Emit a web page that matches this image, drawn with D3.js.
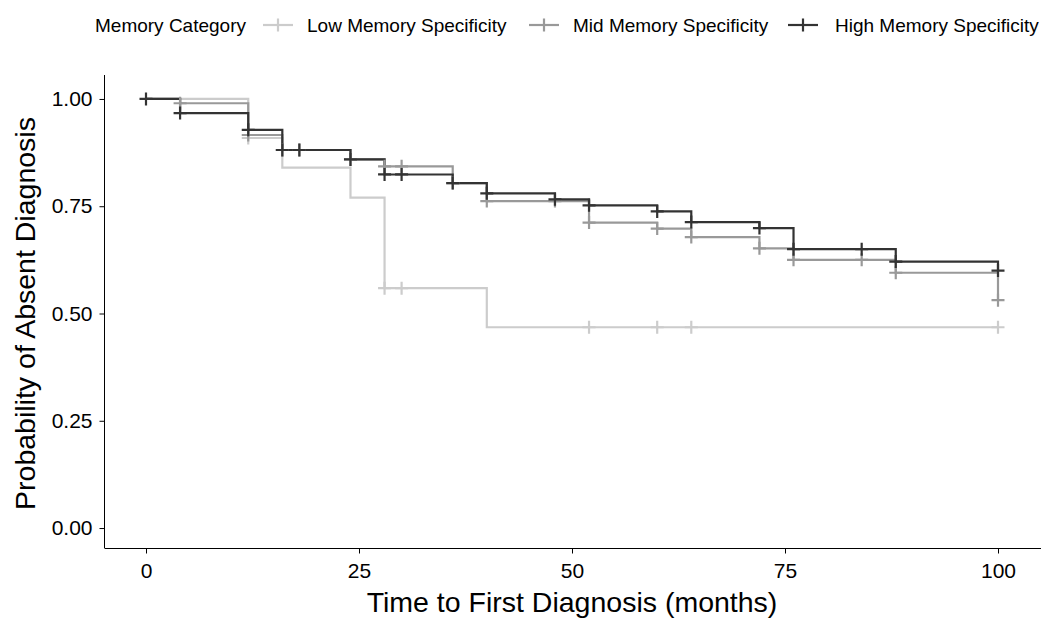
<!DOCTYPE html>
<html lang="en">
<head>
<meta charset="utf-8">
<title>Memory Specificity Survival</title>
<script src="https://d3js.org/d3.v7.min.js"></script>
<style>
  body { margin: 0; background: #fff; font-family: "Liberation Sans", Arial, sans-serif; }
  text { fill: #000; }
</style>
</head>
<body>
<div id="vis"></div>
<script>
// step curves (time in months, survival probability)
const lowTimes = [0, 12, 16, 24, 28, 40, 100];
const lowSurv = [1.0, 0.909, 0.840, 0.770, 0.559, 0.468, 0.468];
const lowCensor = [12, 28, 30, 52, 60, 64, 100];

const midTimes = [0, 4, 12, 16, 24, 28, 36, 40, 52, 60, 64, 72, 76, 88, 100];
const midSurv = [1.0, 0.990, 0.916, 0.881, 0.859, 0.843, 0.804, 0.762, 0.712, 0.698, 0.678, 0.652, 0.625, 0.595, 0.531];
const midCensor = [4, 12, 16, 18, 24, 28, 30, 36, 40, 48, 52, 60, 64, 72, 76, 84, 88, 100];

const highTimes = [0, 4, 12, 16, 24, 28, 36, 40, 48, 52, 60, 64, 72, 76, 88, 100];
const highSurv = [1.0, 0.967, 0.928, 0.881, 0.859, 0.824, 0.804, 0.780, 0.766, 0.752, 0.738, 0.713, 0.699, 0.650, 0.621, 0.600];
const highCensor = [0, 4, 12, 16, 18, 24, 28, 30, 36, 40, 48, 52, 60, 64, 72, 76, 84, 88, 100];

const groupNames = ["Low Memory Specificity", "Mid Memory Specificity", "High Memory Specificity"];
const groupColours = ["#cccccc", "#999999", "#333333"];
const xTicks = [0, 25, 50, 75, 100];
const yTicks = [0, 0.25, 0.5, 0.75, 1];

const width = 1051, height = 619;
const groups = [
  { name: groupNames[0], t: lowTimes, s: lowSurv, c: lowCensor },
  { name: groupNames[1], t: midTimes, s: midSurv, c: midCensor },
  { name: groupNames[2], t: highTimes, s: highSurv, c: highCensor }
];

const svg = d3.select('#vis').append('svg')
  .attr('width', width)
  .attr('height', height);

// ggplot style 5% expansion on both axes
const x = d3.scaleLinear().domain([-5, 105]).range([103.4, 1040.6]);
const y = d3.scaleLinear().domain([-0.05, 1.05]).range([549.5, 77.5]);

const colour = d3.scaleOrdinal().domain(groupNames).range(groupColours);

// survival value at time t for a step curve
function survAt(g, t) {
  let v = g.s[0];
  g.t.forEach((tt, i) => { if (tt <= t) v = g.s[i]; });
  return v;
}

const line = d3.line()
  .x(d => x(d[0]))
  .y(d => y(d[1]))
  .curve(d3.curveStepAfter);

const plusPath = 'M-6.5,0H6.5M0,-6.5V6.5';

// curves
svg.append('g').selectAll('path')
  .data(groups)
  .join('path')
  .attr('fill', 'none')
  .attr('stroke', d => colour(d.name))
  .attr('stroke-width', 2.2)
  .attr('d', d => line(d.t.map((t, i) => [t, d.s[i]])));

// censor marks on top of all lines
groups.forEach(g => {
  svg.append('g').selectAll('path')
    .data(g.c)
    .join('path')
    .attr('transform', t => `translate(${x(t)},${y(survAt(g, t))})`)
    .attr('d', plusPath)
    .attr('stroke', colour(g.name))
    .attr('stroke-width', 2.2);
});

// axes
const xAxis = svg.append('g')
  .attr('transform', 'translate(0,548.5)')
  .call(d3.axisBottom(x).tickValues(xTicks).tickSize(5).tickPadding(8).tickFormat(d3.format('d')));
xAxis.select('.domain').attr('d', `M104.5,0H${width - 10}`).attr('stroke', '#000');

const yAxis = svg.append('g')
  .attr('transform', 'translate(104.5,0)')
  .call(d3.axisLeft(y).tickValues(yTicks).tickSize(5).tickPadding(7).tickFormat(d3.format('.2f')));
yAxis.select('.domain').attr('d', 'M0,75V548').attr('stroke', '#000');

svg.selectAll('.tick text')
  .attr('font-family', '"Liberation Sans", Arial, sans-serif')
  .attr('font-size', 21)
  .attr('fill', '#1a1a1a');
xAxis.selectAll('.tick text').attr('dy', '0.8em');

// axis titles
svg.append('text')
  .attr('x', x(50))
  .attr('y', 612)
  .attr('text-anchor', 'middle')
  .attr('font-size', 28.5)
  .text('Time to First Diagnosis (months)');

svg.append('text')
  .attr('transform', `translate(35,${y(0.5)}) rotate(-90)`)
  .attr('text-anchor', 'middle')
  .attr('font-size', 28.5)
  .text('Probability of Absent Diagnosis');

// legend
const legend = svg.append('g').attr('transform', 'translate(0,25)');
legend.append('text')
  .attr('x', 95)
  .attr('dy', '0.35em')
  .attr('font-size', 19)
  .text('Memory Category');

const keyX = [263, 529, 788];
const labelX = [307, 573, 835];
groups.forEach((g, i) => {
  const k = legend.append('g').attr('transform', `translate(${keyX[i]},0)`);
  k.append('line')
    .attr('x1', 0).attr('x2', 30)
    .attr('stroke', colour(g.name))
    .attr('stroke-width', 2.2);
  k.append('path')
    .attr('transform', 'translate(15,0)')
    .attr('d', plusPath)
    .attr('stroke', colour(g.name))
    .attr('stroke-width', 2.2);
  legend.append('text')
    .attr('x', labelX[i])
    .attr('dy', '0.35em')
    .attr('font-size', 19)
    .text(g.name);
});
</script>
</body>
</html>
